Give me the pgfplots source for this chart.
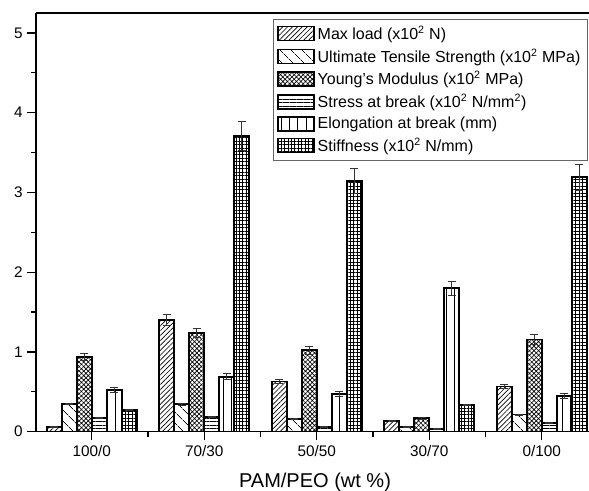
\documentclass[border=0pt]{standalone}
\usepackage{fontspec}
\setmainfont{Liberation Sans}
\usepackage{pgfplots}
\pgfplotsset{compat=1.18}
\usepackage{pgfplotstable}
\usetikzlibrary{patterns.meta}

\pgfplotstableread{
x y e
0 0.063 0.004
1 1.40 0.070
2 0.63 0.030
3 0.138 0.006
4 0.565 0.025
}\maxload
\pgfplotstableread{
x y e
0 0.344 0.008
1 0.344 0.010
2 0.160 0.006
3 0.063 0.004
4 0.215 0.006
}\uts
\pgfplotstableread{
x y e
0 0.94 0.045
1 1.238 0.060
2 1.02 0.050
3 0.168 0.008
4 1.155 0.060
}\young
\pgfplotstableread{
x y e
0 0.168 0.005
1 0.180 0.006
2 0.063 0.004
3 0.034 0.003
4 0.105 0.006
}\stress
\pgfplotstableread{
x y e
0 0.523 0.028
1 0.690 0.035
2 0.475 0.030
3 1.800 0.090
4 0.448 0.030
}\elong
\pgfplotstableread{
x y e
0 0.270 0.008
1 3.710 0.180
2 3.140 0.155
3 0.335 0.010
4 3.190 0.160
}\stiff

\pgfplotsset{
  mylegend/.style={legend image code/.code={\draw[##1,line width=1.2pt] (0pt,-5.25pt) rectangle (27pt,5.25pt);}},
  mybar/.style={ybar, bar width=0.1333, bar shift=0pt, draw=black, line width=1.3pt, fill=none, mylegend,
    error bars/y dir=both, error bars/y explicit,
    error bars/error bar style={line width=0.6pt, black!80},
    error bars/error mark options={rotate=90, mark size=3pt, line width=0.6pt, black!80}},
}

\begin{document}
\begin{tikzpicture}
\begin{axis}[
  scale only axis, width=414.75pt, height=314pt,
  xmin=-0.495, xmax=4.42, ymin=0, ymax=5.25,
  axis x line*=bottom, axis y line*=left,
  axis line style={line width=1pt},
  xtick={0,1,2,3,4}, xticklabels={100/0,70/30,50/50,30/70,0/100},
  minor xtick={0.5,1.5,2.5,3.5},
  ytick={0,1,2,3,4,5}, minor ytick={0.5,1.5,2.5,3.5,4.5},
  tick align=outside, major tick length=6.5pt, minor tick length=3.75pt,
  every tick/.style={line width=1pt, black},
  ticklabel style={font=\fontsize{11.5}{13}\selectfont},
  /pgf/number format/assume math mode=true,
  xlabel={PAM/PEO (wt \%)},
  xlabel style={font=\fontsize{15}{17}\selectfont, at={(axis description cs:0.5045,0)}, anchor=base, yshift=-42.2pt},
  legend style={at={(axis description cs:0.4286,0.9857)}, anchor=north west,
    draw=black!60, line width=0.6pt, font=\fontsize{12}{13}\selectfont,
    row sep=1.6pt, inner xsep=3pt, inner ysep=3pt},
  legend cell align=left,
]
\addplot[mybar, pattern={Lines[angle=45,distance=2.6pt,line width=0.5pt]}] table[x expr=\thisrow{x}-0.3333,y=y,y error=e] {\maxload};
\addlegendentry{Max load (x10\textsuperscript{2} N)}
\addplot[mybar, pattern={Lines[angle=-45,distance=6.5pt,line width=0.5pt]}] table[x expr=\thisrow{x}-0.2,y=y,y error=e] {\uts};
\addlegendentry{Ultimate Tensile Strength (x10\textsuperscript{2} MPa)}
\addplot[mybar, pattern={Hatch[angle=45,distance=2.4pt,line width=0.5pt]}] table[x expr=\thisrow{x}-0.0667,y=y,y error=e] {\young};
\addlegendentry{Young's Modulus (x10\textsuperscript{2} MPa)}
\addplot[mybar, pattern={Lines[angle=0,distance=2.6pt,line width=0.5pt]}] table[x expr=\thisrow{x}+0.0667,y=y,y error=e] {\stress};
\addlegendentry{Stress at break (x10\textsuperscript{2} N/mm\textsuperscript{2})}
\addplot[mybar, pattern={Lines[angle=90,distance=6.2pt,line width=0.5pt]}] table[x expr=\thisrow{x}+0.2,y=y,y error=e] {\elong};
\addlegendentry{Elongation at break (mm)}
\addplot[mybar, pattern={Hatch[angle=0,distance=2.6pt,line width=0.35pt]}] table[x expr=\thisrow{x}+0.3333,y=y,y error=e] {\stiff};
\addlegendentry{Stiffness (x10\textsuperscript{2} N/mm)}
\draw[line width=1pt] (rel axis cs:0,1) -- (rel axis cs:1,1);
\end{axis}
\pgfresetboundingbox
\path (-27pt,-44.5pt) rectangle (414.75pt,323.75pt);
\end{tikzpicture}
\end{document}
